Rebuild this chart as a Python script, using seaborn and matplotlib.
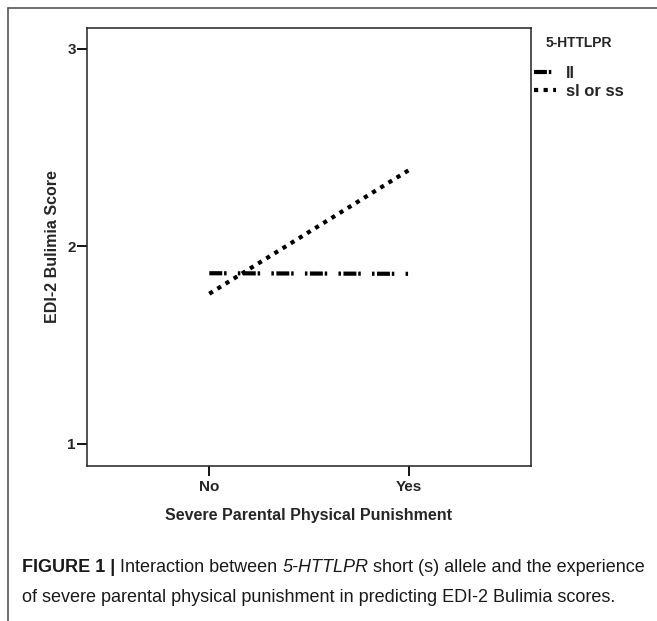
import pandas as pd
import seaborn as sns
import matplotlib.pyplot as plt
from matplotlib.lines import Line2D

# values
exposure = ["No", "Yes"]
genotypes = ["ll", "sl or ss"]
ll_scores = [1.863, 1.860]
s_scores = [1.759, 2.387]

df = pd.DataFrame({
    "exposure": exposure * 2,
    "genotype": [genotypes[0]] * 2 + [genotypes[1]] * 2,
    "score": ll_scores + s_scores,
})

sns.set_style("white")
plt.rcParams["font.family"] = ["Liberation Sans", "DejaVu Sans"]

fig = plt.figure(figsize=(6.57, 6.21), dpi=100)
W, H = 657, 621
ax = fig.add_axes([87 / W, 1 - 465.5 / H, (531 - 87) / W, (465.5 - 28) / H])

lw = 3.0
sns.lineplot(data=df, x="exposure", y="score", hue="genotype", style="genotype",
             palette=["black", "black"],
             dashes={"ll": (3.1, 0.45, 0.6, 2.7, 0.6, 0.6), "sl or ss": (1.0, 1.3)},
             linewidth=lw, ax=ax)
for ln in ax.get_lines():
    ln.set_dash_capstyle("butt")

ax.set_xlim(-0.6115, 1.6085)
ax.set_ylim(0.8885, 3.106)
ax.set_yticks([1, 2, 3])
ax.set_xlabel("Severe Parental Physical Punishment", fontsize=11.5,
              fontweight="bold", labelpad=10)
ax.set_ylabel("EDI-2 Bulimia Score", fontsize=11.5, fontweight="bold", labelpad=5)
ax.tick_params(axis="both", direction="out", length=7, width=1.3,
               labelsize=11, color="black", left=True, bottom=True)
for lab in ax.get_xticklabels() + ax.get_yticklabels():
    lab.set_fontweight("bold")
ax.tick_params(axis="x", pad=3.5)
ax.tick_params(axis="y", pad=1)
for sp in ax.spines.values():
    sp.set_color("#222222")
    sp.set_linewidth(1.1)

leg = ax.legend(title="5-HTTLPR", loc="upper left", bbox_to_anchor=(1.0, 0.99),
                frameon=False, fontsize=12, handlelength=1.3, handletextpad=0.6,
                labelspacing=0.2, borderpad=0.1, borderaxespad=0.1)
leg.get_title().set_fontsize(10)
leg.get_title().set_fontweight("bold")
for t in leg.get_texts():
    t.set_fontweight("bold")
leg._legend_box.sep = 11.5

# outer frame of the figure panel
fig.add_artist(Line2D([8 / W, 8 / W], [0, 1 - 8 / H], transform=fig.transFigure,
                      color="#555555", lw=1.2))
fig.add_artist(Line2D([8 / W, 1], [1 - 8 / H, 1 - 8 / H], transform=fig.transFigure,
                      color="#555555", lw=1.2))

# caption with mixed styles, drawn piece by piece
renderer = fig.canvas.get_renderer()


def caption_line(pieces, x0, y0):
    x = x0
    for txt, weight, style in pieces:
        t = fig.text(x / W, 1 - y0 / H, txt, fontsize=13.0, fontweight=weight,
                     fontstyle=style, color="#1a1a1a", va="center", ha="left")
        bb = t.get_window_extent(renderer)
        x += bb.width


caption_line([("FIGURE 1 | ", "bold", "normal"),
              ("Interaction between ", "normal", "normal"),
              ("5-HTTLPR", "normal", "italic"),
              (" short (s) allele and the experience", "normal", "normal")], 22, 568)
caption_line([("of severe parental physical punishment in predicting EDI-2 Bulimia scores.",
               "normal", "normal")], 22, 597)

fig.savefig("out.png", dpi=100)
